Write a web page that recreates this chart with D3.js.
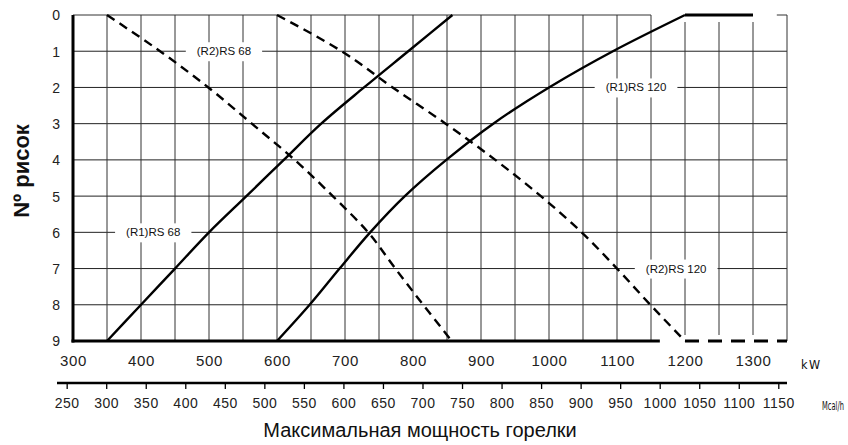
<!DOCTYPE html>
<html><head><meta charset="utf-8">
<script src="https://cdn.jsdelivr.net/npm/d3@7/dist/d3.min.js"></script>
<style>
html,body{margin:0;padding:0;background:#fff;}
svg{display:block;font-family:"Liberation Sans",Arial,sans-serif;}
</style></head>
<body>
<svg id="c" width="848" height="445"></svg>
<script>
// ---- data ----
const risok = [0,1,2,3,4,5,6,7,8,9];
const r1rs68  = [858, 793, 728, 665, 610, 555, 500, 450, 400, 350];
const r2rs68  = [350, 428, 499, 563, 626, 682, 734, 774, 815, 857];
const r1rs120 = [1200, 1094, 1000, 918, 849, 788, 737, 692, 648, 600];
const r2rs120 = [600, 695, 770, 848, 921, 988, 1048, 1100, 1149, 1200];
const r1rs120Flat = [[1200,0],[1300,0]];
const r2rs120Flat = [[1200,9],[1350,9]];
const kwTicks = [300,400,500,600,700,800,900,1000,1100,1200,1300];
const kwGrid = [350,400,450,500,550,600,650,700,750,800,850,900,950,1000,1050,1100,1150,1200,1250,1300];
const mcalTicks = [250,300,350,400,450,500,550,600,650,700,750,800,850,900,950,1000,1050,1100,1150];
const labels = [
  {text:"(R2)RS  68", kw:522, r:1},
  {text:"(R1)RS  120", kw:1128, r:2},
  {text:"(R1)RS  68", kw:418, r:6},
  {text:"(R2)RS  120", kw:1187, r:7}
];

const svg = d3.select("#c");
const x = d3.scaleLinear().domain([300,1350]).range([73,787]);
const y = d3.scaleLinear().domain([0,9]).range([15,341]);
const xM = d3.scaleLinear().domain([300*0.86,1350*0.86]).range([73,787]);

// grid
const g = svg.append("g");
g.selectAll("line.h").data(risok.slice(1,9)).join("line")
  .attr("x1",x(300)).attr("x2",x(1350)).attr("y1",d=>y(d)).attr("y2",d=>y(d))
  .attr("stroke","#222").attr("stroke-width",1);
g.selectAll("line.v").data(kwGrid).join("line")
  .attr("x1",d=>x(d)).attr("x2",d=>x(d))
  .attr("y1",d=>d>=1200?22:y(0)).attr("y2",d=>d>=1200?335:y(9))
  .attr("stroke","#333").attr("stroke-width",1);
// frame
g.append("line").attr("x1",x(300)).attr("x2",x(1150)).attr("y1",y(0)).attr("y2",y(0)).attr("stroke","#333").attr("stroke-width",1);
g.append("line").attr("x1",x(1335)).attr("x2",x(1350)).attr("y1",y(0)).attr("y2",y(0)).attr("stroke","#333").attr("stroke-width",1);
g.append("line").attr("x1",x(1350)).attr("x2",x(1350)).attr("y1",y(0)).attr("y2",y(9)).attr("stroke","#333").attr("stroke-width",1);
g.append("line").attr("x1",x(300)).attr("x2",x(300)).attr("y1",y(0)).attr("y2",y(9)+1.5).attr("stroke","#000").attr("stroke-width",3);
g.append("line").attr("x1",x(300)-1.5).attr("x2",x(1163)).attr("y1",y(9)).attr("y2",y(9)).attr("stroke","#000").attr("stroke-width",3);

// labels with white boxes
const lg = svg.append("g");
labels.forEach(l=>{
  const t = lg.append("text").attr("x",x(l.kw)).attr("y",y(l.r)+4)
    .attr("text-anchor","middle").attr("font-size",11.5).attr("fill","#111").text(l.text);
  const bb = t.node().getBBox();
  lg.insert("rect","text").attr("x",bb.x-11).attr("y",y(l.r)-9).attr("width",bb.width+22).attr("height",19).attr("fill","#fff");
});

// curves
const line = d3.line().x(d=>x(d[0])).y(d=>y(d[1])).curve(d3.curveMonotoneY);
const pts = arr => arr.map((v,i)=>[v,risok[i]]);
const cg = svg.append("g").attr("fill","none").attr("stroke","#000");
cg.append("path").attr("d",line(pts(r1rs68))).attr("stroke-width",2.4);
cg.append("path").attr("d",line(pts(r1rs120))).attr("stroke-width",2.4);
cg.append("path").attr("d",line(pts(r2rs68))).attr("stroke-width",2.4).attr("stroke-dasharray","9,6");
cg.append("path").attr("d",line(pts(r2rs120))).attr("stroke-width",2.4).attr("stroke-dasharray","9,6");
cg.append("path").attr("d",d3.line().x(d=>x(d[0])).y(d=>y(d[1]))(r1rs120Flat)).attr("stroke-width",3);
cg.append("path").attr("d",d3.line().x(d=>x(d[0])).y(d=>y(d[1]))(r2rs120Flat)).attr("stroke-width",3).attr("stroke-dasharray","14,9");

// y axis labels
const yAxis = d3.axisLeft(y).tickValues(risok).tickSize(0).tickPadding(13);
const ya = svg.append("g").attr("transform",`translate(${x(300)},0)`).call(yAxis);
ya.select(".domain").remove();
ya.selectAll("text").attr("font-size",14).attr("fill","#222").attr("font-family","Liberation Sans, Arial, sans-serif").attr("dy","0.35em");

// kW labels
const kwAxis = d3.axisBottom(x).tickValues(kwTicks).tickFormat(d3.format("d")).tickSize(0).tickPadding(0);
const ka = svg.append("g").attr("transform",`translate(0,355)`).call(kwAxis);
ka.select(".domain").remove();
ka.selectAll("text").attr("font-size",15).attr("fill","#222").attr("letter-spacing","0.6px").attr("font-family","Liberation Sans, Arial, sans-serif");
svg.append("text").attr("x",801).attr("y",369).attr("font-size",12.5).attr("textLength",19).attr("lengthAdjust","spacing").attr("font-family","DejaVu Sans Condensed, DejaVu Sans").attr("fill","#111").text("kW");

// Mcal/h axis
svg.append("line").attr("x1",57).attr("x2",787).attr("y1",383).attr("y2",383).attr("stroke","#000").attr("stroke-width",2.5);
const mAxis = d3.axisBottom(xM).tickValues(mcalTicks).tickFormat(d3.format("d")).tickSize(5).tickPadding(9);
const ma = svg.append("g").attr("transform",`translate(0,384)`).call(mAxis);
ma.select(".domain").remove();
ma.selectAll(".tick line").attr("stroke","#000").attr("stroke-width",1.3);
ma.selectAll("text").attr("font-size",14).attr("fill","#222").attr("font-family","Liberation Sans Narrow, Liberation Sans, Arial, sans-serif").attr("letter-spacing","0.5px");
svg.append("text").attr("transform","translate(822,410) scale(0.62,1)").attr("font-size",12).attr("font-family","DejaVu Sans Condensed, DejaVu Sans").attr("fill","#111").text("Mcal/h");

// titles
svg.append("text").attr("x",420).attr("y",437).attr("text-anchor","middle").attr("font-size",20).attr("fill","#111").text("Максимальная мощность горелки");
svg.append("text").attr("transform","translate(29,171) rotate(-90)").attr("text-anchor","middle").attr("font-size",22).attr("font-weight","bold").attr("fill","#111").text("Nº рисок");
</script>
</body></html>
